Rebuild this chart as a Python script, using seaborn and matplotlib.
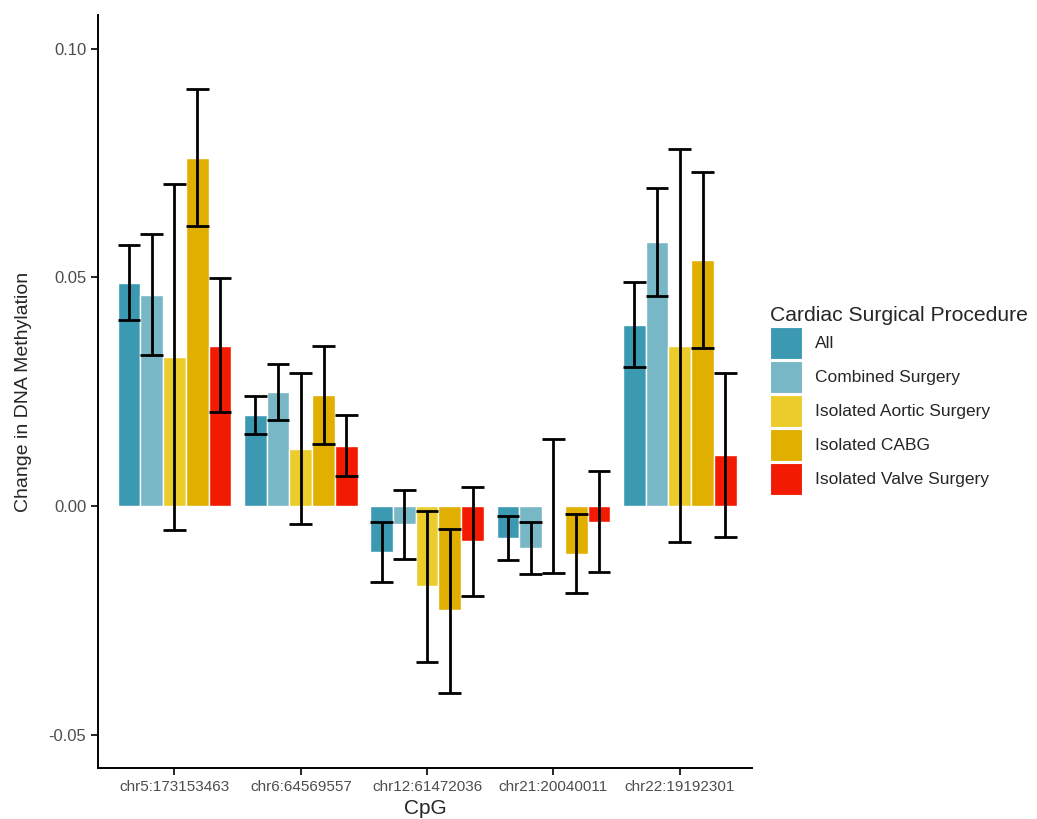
import pandas as pd
import numpy as np
import matplotlib.pyplot as plt
import seaborn as sns

# Data
cpgs = ["chr5:173153463", "chr6:64569557", "chr12:61472036", "chr21:20040011", "chr22:19192301"]
procedures = ["All", "Combined Surgery", "Isolated Aortic Surgery", "Isolated CABG", "Isolated Valve Surgery"]
colors = ["#3B9AB2", "#78B7C5", "#EBCC2A", "#E1AF00", "#F21A00"]

# one list per procedure, ordered like cpgs
est_all = [0.0487, 0.0199, -0.0101, -0.0070, 0.0396]
est_combined = [0.0462, 0.0249, -0.0039, -0.0091, 0.0577]
est_aortic = [0.0325, 0.0125, -0.0175, 0.0000, 0.0350]
est_cabg = [0.0761, 0.0243, -0.0228, -0.0104, 0.0538]
est_valve = [0.0351, 0.0131, -0.0077, -0.0034, 0.0111]

lo_all = [0.0407, 0.0158, -0.0166, -0.0119, 0.0304]
lo_combined = [0.0330, 0.0188, -0.0116, -0.0149, 0.0460]
lo_aortic = [-0.0053, -0.0039, -0.0341, -0.0147, -0.0079]
lo_cabg = [0.0613, 0.0136, -0.0408, -0.0190, 0.0345]
lo_valve = [0.0205, 0.0066, -0.0196, -0.0145, -0.0067]

hi_all = [0.0570, 0.0241, -0.0036, -0.0021, 0.0489]
hi_combined = [0.0595, 0.0310, 0.0036, -0.0035, 0.0696]
hi_aortic = [0.0705, 0.0291, -0.0010, 0.0147, 0.0780]
hi_cabg = [0.0912, 0.0351, -0.0050, -0.0018, 0.0731]
hi_valve = [0.0498, 0.0198, 0.0041, 0.0077, 0.0290]

estimates = [est_all, est_combined, est_aortic, est_cabg, est_valve]
lowers = [lo_all, lo_combined, lo_aortic, lo_cabg, lo_valve]
uppers = [hi_all, hi_combined, hi_aortic, hi_cabg, hi_valve]

rows = []
for p, est, lo, hi in zip(procedures, estimates, lowers, uppers):
    for c, e, l, h in zip(cpgs, est, lo, hi):
        rows.append({"CpG": c, "Procedure": p, "Estimate": e, "Lower": l, "Upper": h})
df = pd.DataFrame(rows)

sns.set_theme(style="ticks")
plt.rcParams["font.family"] = ["Liberation Sans", "DejaVu Sans"]

fig = plt.figure(figsize=(10.37, 8.19), dpi=100)
ax = fig.add_axes([0.0945, 0.0623, 0.6305, 0.9194])

sns.barplot(data=df, x="CpG", y="Estimate", hue="Procedure", order=cpgs,
            hue_order=procedures, palette=colors, errorbar=None, width=0.9,
            saturation=1, ax=ax, legend=False)

# error bars on each bar, positioned from the drawn patches
for cont, p in zip(ax.containers, procedures):
    sub = df[df["Procedure"] == p].set_index("CpG").loc[cpgs]
    xs = np.array([b.get_x() + b.get_width() / 2 for b in cont])
    w = cont[0].get_width()
    ax.vlines(xs, sub["Lower"], sub["Upper"], color="black", lw=2)
    ax.hlines(sub["Lower"], xs - w / 2, xs + w / 2, color="black", lw=2)
    ax.hlines(sub["Upper"], xs - w / 2, xs + w / 2, color="black", lw=2)

ax.set_xlim(-0.605, 4.57)
ax.set_ylim(-0.0573, 0.1074)
ax.set_yticks([-0.05, 0.0, 0.05, 0.10])
ax.set_yticklabels(["-0.05", "0.00", "0.05", "0.10"])
ax.tick_params(axis="both", colors="black", labelcolor="#4D4D4D", labelsize=12, length=5, width=1.2)
ax.tick_params(axis="x", labelsize=11)
for s in ["left", "bottom"]:
    ax.spines[s].set_linewidth(1.4)
    ax.spines[s].set_color("black")
sns.despine(ax=ax)
ax.set_xlabel("CpG", fontsize=15, labelpad=4)
ax.set_ylabel("Change in DNA Methylation", fontsize=14, labelpad=12)

handles = [plt.Rectangle((0, 0), 1, 1, facecolor=c, edgecolor="white", lw=0.8) for c in colors]
leg = fig.legend(handles, procedures, title="Cardiac Surgical Procedure", loc="center left",
                 bbox_to_anchor=(0.7425, 0.511), frameon=False, fontsize=12.5,
                 title_fontsize=15.2, handlelength=1.84, handleheight=2.45,
                 labelspacing=0.12, handletextpad=0.75, borderpad=0, borderaxespad=0)
leg._legend_box.align = "left"

fig.savefig("out.png", dpi=100)
